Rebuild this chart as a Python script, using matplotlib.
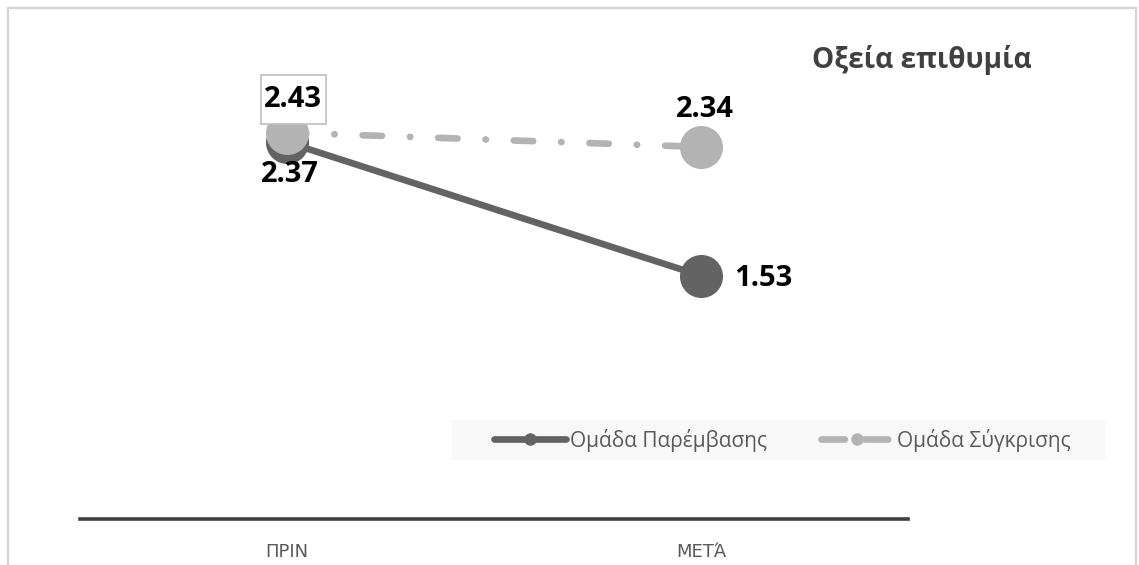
import matplotlib
matplotlib.use("Agg")
import matplotlib.pyplot as plt
from matplotlib.lines import Line2D
from matplotlib.patches import Rectangle
from matplotlib.path import Path

# Chart data
categories = ["ΠΡΙΝ", "ΜΕΤΆ"]
intervention = [2.37, 1.53]
comparison = [2.43, 2.34]
series_names = ["Ομάδα Παρέμβασης", "Ομάδα Σύγκρισης"]
title_text = "Οξεία επιθυμία"

DARK = "#636363"
LIGHT = "#b3b3b3"
W, H = 1139, 565

fig = plt.figure(figsize=(W / 100, H / 100), dpi=100)
fig.patch.set_facecolor("white")

# light frame around the chart area (left, top, right)
frame_kw = dict(color="#d4d4d4", lw=1.6, transform=fig.transFigure, zorder=0)
fig.add_artist(Line2D([7.5 / W, 7.5 / W], [0, 1 - 7.5 / H], **frame_kw))
fig.add_artist(Line2D([7.5 / W, 1136 / W], [1 - 7.5 / H, 1 - 7.5 / H], **frame_kw))
fig.add_artist(Line2D([1136 / W, 1136 / W], [0, 1 - 7.5 / H], **frame_kw))

ax = fig.add_axes([80 / W, 1 - 519 / H, 828 / W, (519 - 42) / H])
x = list(range(len(categories)))
ax.set_xlim(-0.5, len(categories) - 0.5)
ax.set_ylim(0, 3)

lw = 4.8
ax.plot(x, intervention, color=DARK, lw=lw, solid_capstyle="round",
        marker="o", markersize=31, markerfacecolor=DARK, markeredgewidth=0, zorder=3)
ax.plot(x, comparison, color=LIGHT, lw=lw, dash_capstyle="round",
        linestyle=(0, (2.9, 4.2, 0.05, 4.2)),
        marker="o", markersize=31, markerfacecolor=LIGHT, markeredgewidth=0, zorder=4)

# axes styling
for s in ["top", "right", "left"]:
    ax.spines[s].set_visible(False)
ax.spines["bottom"].set_color("#404040")
ax.spines["bottom"].set_linewidth(2.6)
ax.set_yticks([])
ax.set_xticks(x)
ax.set_xticklabels(categories, fontsize=13, color="#595959",
                   family=["Liberation Sans Narrow", "DejaVu Sans"])
ax.tick_params(axis="x", length=0, pad=17)


def label_box(x0, y0, width, height, mutation_size):
    """Rectangle with slim side padding and generous top/bottom padding."""
    px, py = 0.12 * mutation_size, 0.35 * mutation_size
    x0, y0 = x0 - px, y0 - py
    x1, y1 = x0 + width + 2 * px, y0 + height + 2 * py
    return Path([(x0, y0), (x1, y0), (x1, y1), (x0, y1), (x0, y0)], closed=True)


# value labels
lab_kw = dict(textcoords="offset points", fontsize=21, fontweight="bold",
              color="black", family=["Open Sans", "DejaVu Sans"],
              ha="center", va="center", zorder=6)
ax.annotate(f"{comparison[0]:.2f}", (x[0], comparison[0]), xytext=(4.5, 24),
            bbox=dict(boxstyle=label_box, fc="white", ec="#bfbfbf", lw=1.2),
            **lab_kw)
ax.annotate(f"{intervention[0]:.2f}", (x[0], intervention[0]), xytext=(2, -23), **lab_kw)
ax.annotate(f"{comparison[1]:.2f}", (x[1], comparison[1]), xytext=(3, 27), **lab_kw)
ax.annotate(f"{intervention[1]:.2f}", (x[1], intervention[1]), xytext=(45, -2), **lab_kw)

# title
fig.text(922 / W, 1 - 60 / H, title_text, fontsize=20.2, fontweight="bold",
         color="#404040", ha="center", va="center",
         family=["Open Sans", "DejaVu Sans"])

# legend box and entries
fig.add_artist(Rectangle((452 / W, 1 - 460 / H), 653 / W, 40 / H,
                         transform=fig.transFigure, fc="#f8f8f8", ec="none", zorder=1))
handles = [
    Line2D([], [], color=DARK, lw=lw, solid_capstyle="round",
           marker="o", markersize=9, markerfacecolor=DARK, markeredgewidth=0),
    Line2D([], [], color=LIGHT, lw=lw, dash_capstyle="round",
           linestyle=(0, (3.5, 3.0)),
           marker="o", markersize=9, markerfacecolor=LIGHT, markeredgewidth=0),
]
leg = fig.legend(handles, series_names, loc="center",
                 bbox_to_anchor=(782 / W, 1 - 440 / H), ncol=2, frameon=False,
                 prop=dict(family=["Open Sans", "DejaVu Sans"], size=15),
                 handlelength=3.5, handletextpad=0.15, columnspacing=2.6)
for t in leg.get_texts():
    t.set_color("#595959")

fig.savefig("out.png", dpi=100, facecolor="white")
